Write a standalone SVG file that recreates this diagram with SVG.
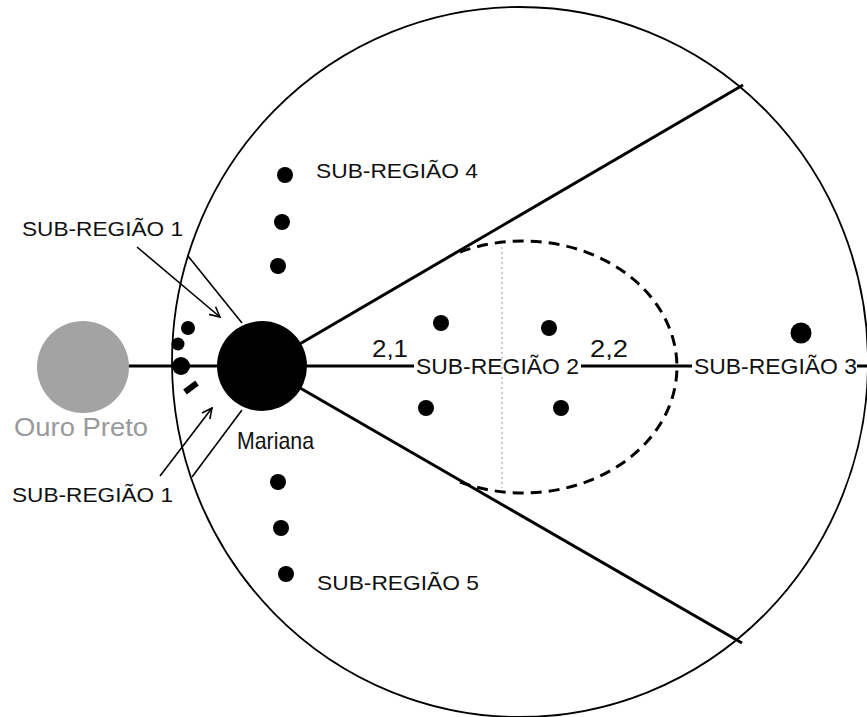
<svg xmlns="http://www.w3.org/2000/svg" width="867" height="717" viewBox="0 0 867 717">
  <style>
    .lbl { font-family: "Liberation Sans", Arial, sans-serif; fill: #111; }
    .dot { fill: #000; }
    .thick { stroke: #000; stroke-width: 3; fill: none; }
    .thin { stroke: #000; stroke-width: 1.6; fill: none; }
  </style>
  <defs>
    <marker id="openArrow" viewBox="0 0 12 12" refX="11" refY="6" markerWidth="12" markerHeight="12" markerUnits="userSpaceOnUse" orient="auto">
      <path d="M1,1 L11,6 L1,11" fill="none" stroke="#000" stroke-width="1.6"/>
    </marker>
  </defs>
  <rect width="867" height="717" fill="#fff"/>

  <!-- outer region boundary -->
  <g id="outer-region">
    <ellipse cx="520" cy="362" rx="348" ry="355" fill="none" stroke="#000" stroke-width="1.8"/>
  </g>

  <!-- connectors -->
  <g id="connectors">
    <!-- main axis -->
    <line class="thick" x1="128" y1="366" x2="414" y2="366"/>
    <line class="thick" x1="581" y1="366" x2="692" y2="366"/>
    <line class="thick" x1="857" y1="366" x2="867" y2="366"/>
    <!-- wedge boundaries -->
    <line class="thick" x1="262" y1="366" x2="743" y2="85"/>
    <line class="thick" x1="262" y1="366" x2="742" y2="643"/>
    <!-- sub-region 1 boundaries -->
    <line class="thin" x1="188" y1="256" x2="242" y2="323"/>
    <line class="thin" x1="192" y1="477" x2="242" y2="410"/>
    <!-- label arrows -->
    <line class="thin" x1="137" y1="247" x2="220" y2="317" marker-end="url(#openArrow)"/>
    <line class="thin" x1="160" y1="476" x2="212" y2="408" marker-end="url(#openArrow)"/>
    <!-- sub-region 2 envelope -->
    <path d="M460,252 A154,126 0 1,1 460,482" fill="none" stroke="#000" stroke-width="3" stroke-dasharray="11,7"/>
    <line x1="502" y1="247" x2="502" y2="488" stroke="#999" stroke-width="1" stroke-dasharray="2,3"/>
  </g>

  <g id="ouro-preto">
    <circle cx="83" cy="367" r="46" fill="#a3a3a3"/>
    <text class="lbl" x="14" y="436" font-size="25" textLength="134" lengthAdjust="spacingAndGlyphs" style="fill:#9a9a9a">Ouro Preto</text>
  </g>

  <g id="mariana">
    <circle cx="262" cy="366" r="45" fill="#000"/>
    <text class="lbl" x="237" y="449" font-size="24" textLength="77" lengthAdjust="spacingAndGlyphs">Mariana</text>
  </g>

  <g id="sub-regiao-1">
    <circle class="dot" cx="188" cy="328" r="7"/>
    <circle class="dot" cx="178" cy="344" r="6.5"/>
    <circle class="dot" cx="181" cy="366" r="9"/>
    <line x1="185" y1="392" x2="197" y2="383" stroke="#000" stroke-width="6"/>
    <text class="lbl" x="22" y="236" font-size="21" textLength="161" lengthAdjust="spacingAndGlyphs">SUB-REGIÃO 1</text>
    <text class="lbl" x="12" y="502" font-size="21" textLength="161" lengthAdjust="spacingAndGlyphs">SUB-REGIÃO 1</text>
  </g>

  <g id="sub-regiao-2">
    <circle class="dot" cx="441" cy="323" r="8"/>
    <circle class="dot" cx="549" cy="328" r="8"/>
    <circle class="dot" cx="426" cy="408" r="8"/>
    <circle class="dot" cx="561" cy="408" r="8"/>
    <text class="lbl" x="372" y="357" font-size="24" textLength="36" lengthAdjust="spacingAndGlyphs">2,1</text>
    <text class="lbl" x="590" y="357" font-size="24" textLength="38" lengthAdjust="spacingAndGlyphs">2,2</text>
    <text class="lbl" x="416" y="374" font-size="22" textLength="163" lengthAdjust="spacingAndGlyphs">SUB-REGIÃO 2</text>
  </g>

  <g id="sub-regiao-3">
    <circle class="dot" cx="801" cy="333" r="10.5"/>
    <text class="lbl" x="694" y="374" font-size="22" textLength="163" lengthAdjust="spacingAndGlyphs">SUB-REGIÃO 3</text>
  </g>

  <g id="sub-regiao-4">
    <circle class="dot" cx="285" cy="175" r="8"/>
    <circle class="dot" cx="282" cy="222" r="8"/>
    <circle class="dot" cx="278" cy="266" r="8"/>
    <text class="lbl" x="316" y="178" font-size="21" textLength="162" lengthAdjust="spacingAndGlyphs">SUB-REGIÃO 4</text>
  </g>

  <g id="sub-regiao-5">
    <circle class="dot" cx="278" cy="482" r="8"/>
    <circle class="dot" cx="281" cy="528" r="8"/>
    <circle class="dot" cx="286" cy="574" r="8"/>
    <text class="lbl" x="317" y="590" font-size="21" textLength="162" lengthAdjust="spacingAndGlyphs">SUB-REGIÃO 5</text>
  </g>
</svg>
